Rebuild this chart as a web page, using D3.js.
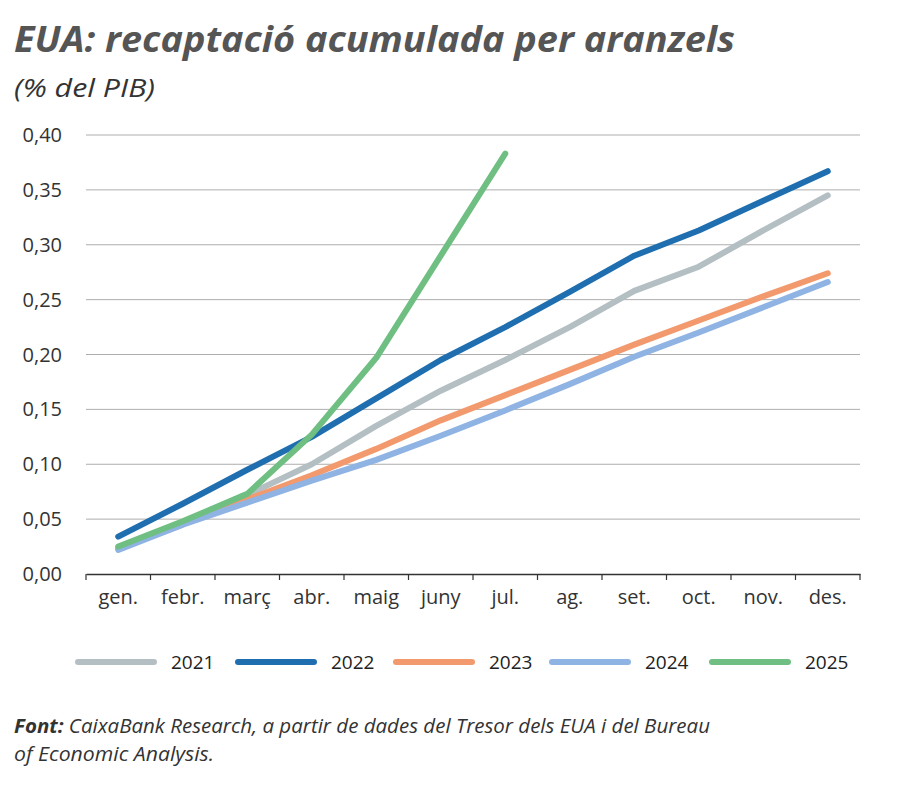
<!DOCTYPE html><html><head><meta charset="utf-8">
<script src="https://cdn.jsdelivr.net/npm/d3@7"></script>
<style>body{margin:0;background:#fff}text{font-family:"Open Sans",sans-serif}</style></head><body>
<svg id="c" width="900" height="789"></svg>
<script>
const months=["gen.","febr.","març","abr.","maig","juny","jul.","ag.","set.","oct.","nov.","des."];
const yTicks=[0,0.05,0.10,0.15,0.20,0.25,0.30,0.35,0.40];
const s2021=[0.023,0.045,0.072,0.100,0.135,0.167,0.195,0.225,0.258,0.280,0.313,0.345];
const s2022=[0.034,0.064,0.095,0.125,0.160,0.195,0.225,0.257,0.290,0.313,0.340,0.367];
const s2023=[0.023,0.047,0.068,0.090,0.114,0.140,0.163,0.186,0.209,0.231,0.253,0.274];
const s2024=[0.022,0.045,0.065,0.085,0.104,0.126,0.149,0.173,0.198,0.220,0.243,0.266];
const s2025=[0.025,0.048,0.073,0.127,0.197,0.290,0.383];
const series=[["2021",s2021,"#b3bfc3"],["2022",s2022,"#1f6fb0"],["2023",s2023,"#f29a6e"],["2024",s2024,"#8fb3e3"],["2025",s2025,"#6fbf82"]];
const svg=d3.select("#c");
const x=d3.scaleBand().domain(months).range([86,860]);
const y=d3.scaleLinear().domain([0,0.4]).range([574,135]);
svg.append("text").attr("x",14).attr("y",52).attr("font-size",35).attr("font-weight",700).attr("font-style","italic").attr("fill","#555").attr("textLength",721).attr("lengthAdjust","spacingAndGlyphs").text("EUA: recaptació acumulada per aranzels");
svg.append("text").attr("x",14).attr("y",97).attr("font-size",25).attr("font-style","italic").attr("fill","#333").attr("textLength",141).attr("lengthAdjust","spacingAndGlyphs").text("(% del PIB)");
const g=svg.append("g");
yTicks.forEach(t=>{
 if(t>0) g.append("line").attr("x1",86).attr("x2",860).attr("y1",y(t)).attr("y2",y(t)).attr("stroke","#999").attr("stroke-width",0.8);
 g.append("text").attr("x",62).attr("y",y(t)+7).attr("text-anchor","end").attr("font-size",20).attr("fill","#333").text(d3.format(".2f")(t).replace(".",","));
});
const ax=svg.append("g").attr("transform","translate(0,574)").call(d3.axisBottom(x).tickSize(0).tickPadding(16));
ax.select(".domain").attr("stroke","#333").attr("stroke-width",1.5);
ax.selectAll("text").attr("font-size",20).attr("fill","#333").style("font-family","Open Sans");
const bounds=months.map(m=>x(m)).concat([860]);
bounds.forEach(b=>svg.append("line").attr("x1",b).attr("x2",b).attr("y1",574).attr("y2",580).attr("stroke","#333").attr("stroke-width",1.2));
const line=d3.line().x((d,i)=>x(months[i])+x.bandwidth()/2).y(d=>y(d));
series.forEach(([n,v,c])=>svg.append("path").attr("d",line(v)).attr("fill","none").attr("stroke",c).attr("stroke-width",6).attr("stroke-linejoin","round").attr("stroke-linecap","round"));
const lx=[78,238,396,552,712];
series.forEach(([n,v,c],i)=>{
 svg.append("line").attr("x1",lx[i]).attr("x2",lx[i]+76).attr("y1",662).attr("y2",662).attr("stroke",c).attr("stroke-width",6).attr("stroke-linecap","round");
 svg.append("text").attr("x",lx[i]+93).attr("y",669).attr("font-size",19).attr("fill","#222").text(n);
});
const f=svg.append("text").attr("x",14).attr("y",733).attr("font-size",20).attr("font-style","italic").attr("fill","#333").attr("textLength",696).attr("lengthAdjust","spacingAndGlyphs");
f.append("tspan").attr("font-weight",700).text("Font: ");
f.append("tspan").text("CaixaBank Research, a partir de dades del Tresor dels EUA i del Bureau");
svg.append("text").attr("x",14).attr("y",761).attr("font-size",20).attr("font-style","italic").attr("fill","#333").attr("textLength",200).attr("lengthAdjust","spacingAndGlyphs").text("of Economic Analysis.");
</script></body></html>
